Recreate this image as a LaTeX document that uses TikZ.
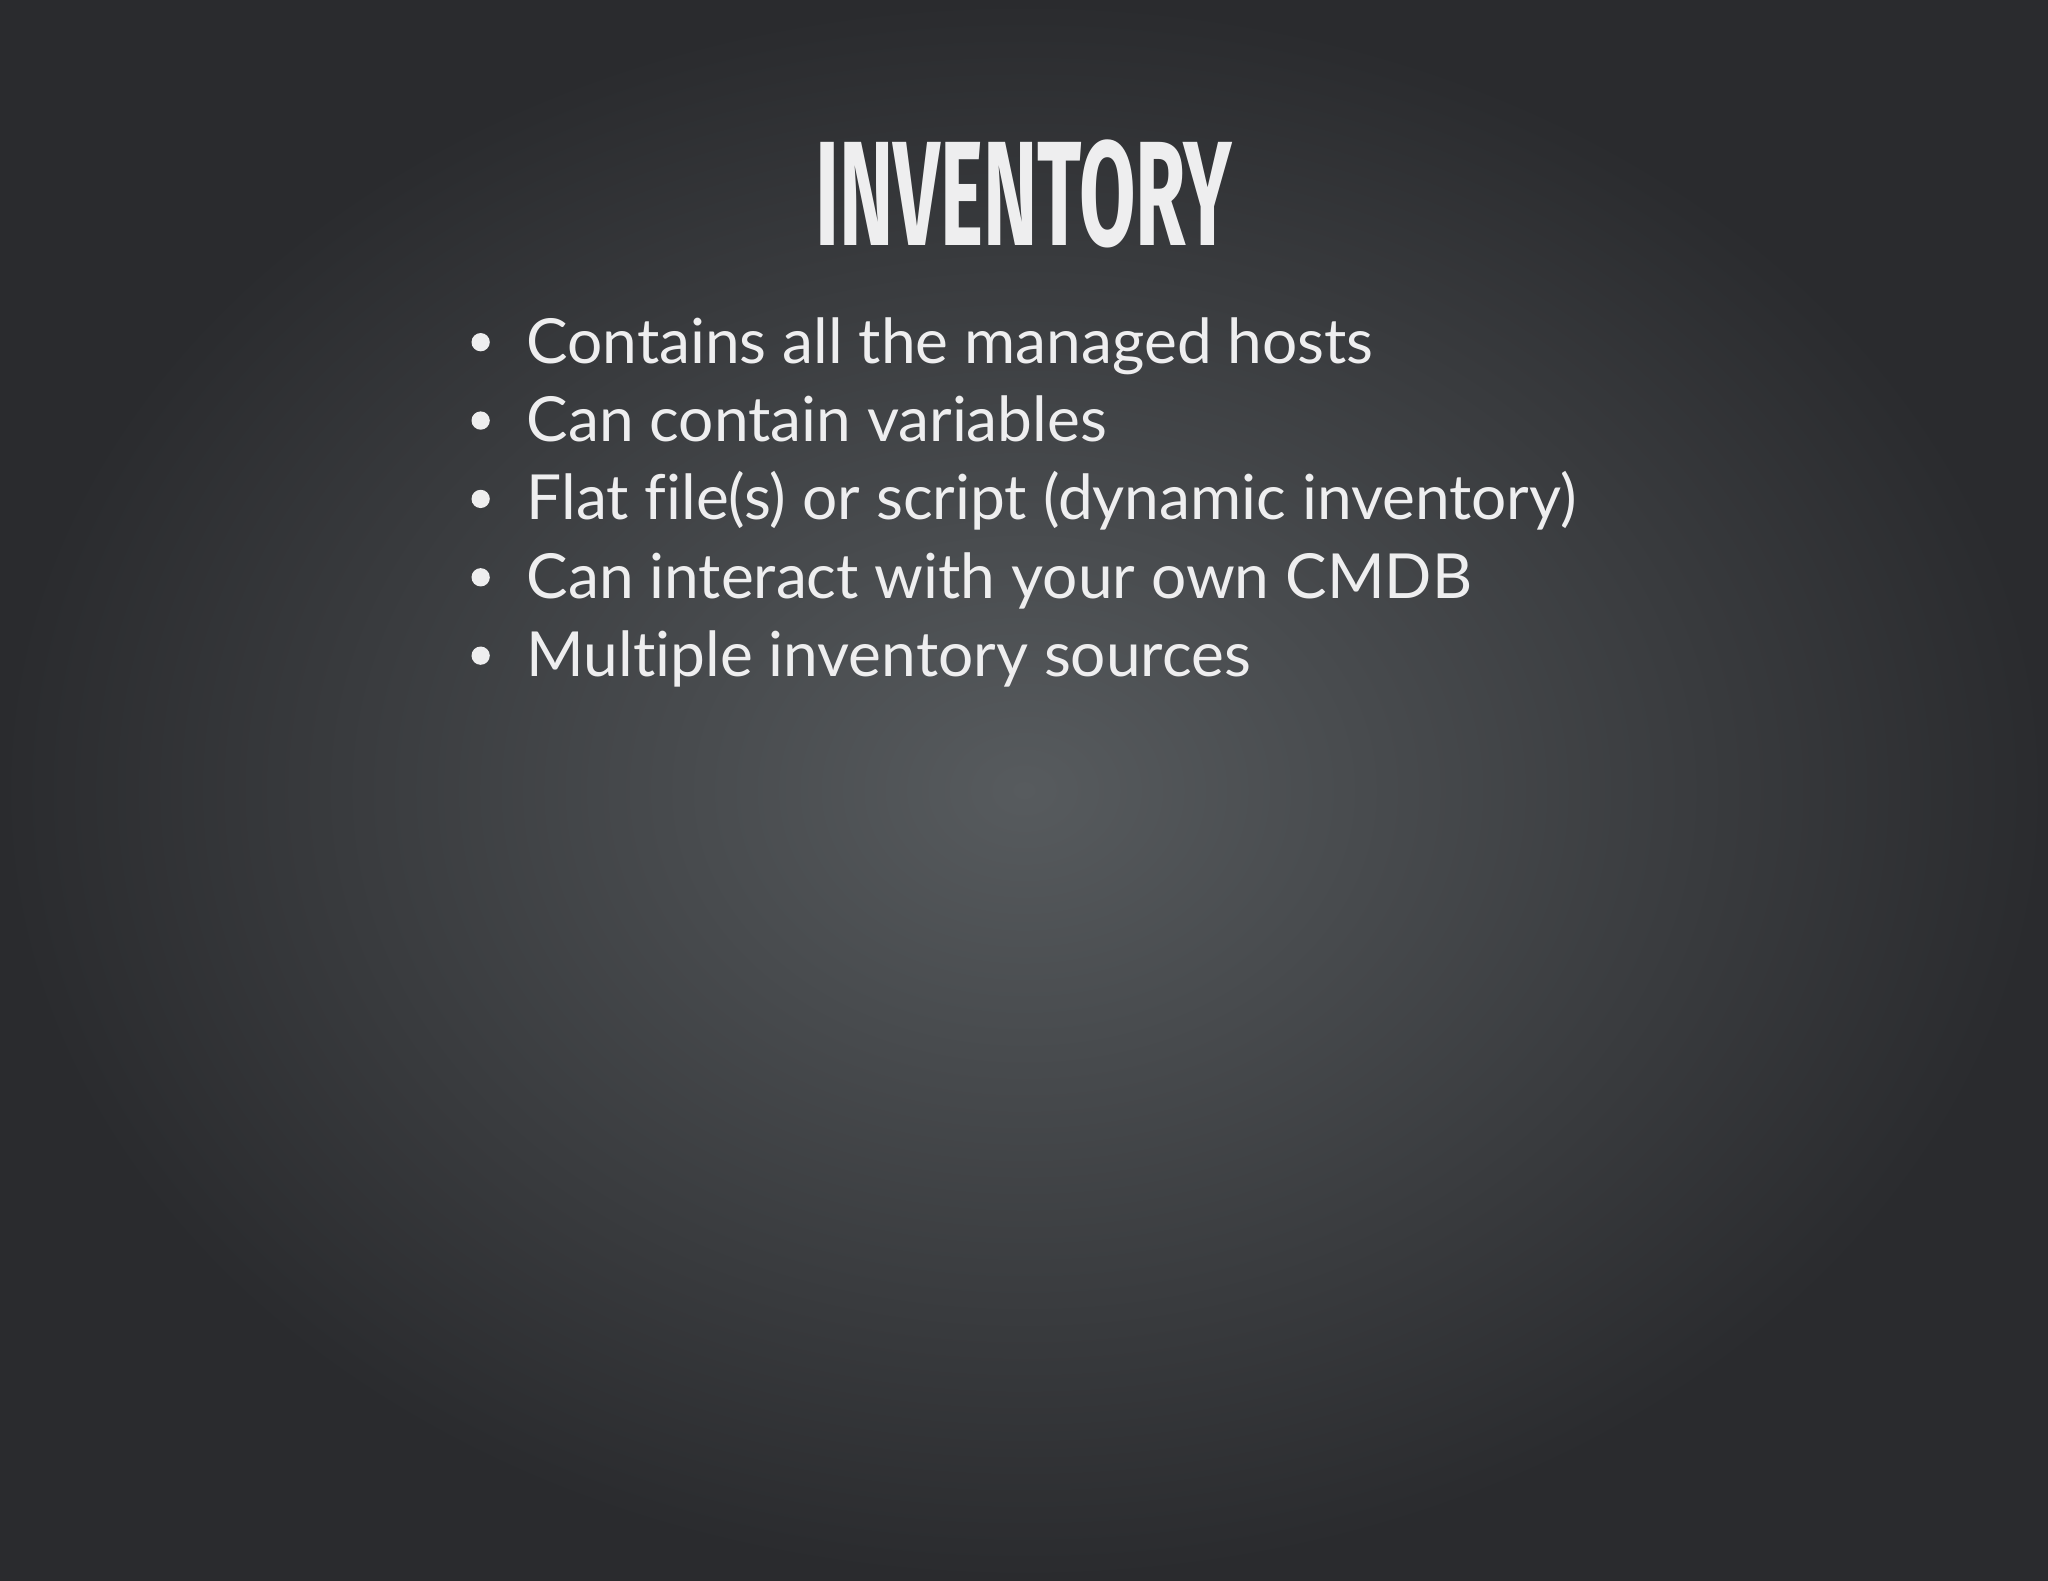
\documentclass[tikz,border=0pt]{standalone}
\usepackage{fontspec}
\setmainfont[Ligatures=NoCommon]{Lato}
\newfontfamily\titlefont{Fira Sans}
\definecolor{txt}{HTML}{EEEEEF}
\definecolor{bgin}{HTML}{575B5E}
\definecolor{bgout}{HTML}{2A2B2E}
\begin{document}
\begin{tikzpicture}[x=1pt,y=1pt,
  bullet/.style={anchor=base west,text=txt,font=\fontsize{47.6}{48}\selectfont,inner sep=0pt},
  dot/.style={circle,fill=txt,inner sep=0pt,minimum size=14pt}]
\useasboundingbox (0,0) rectangle (1568,1210);
\shade[inner color=bgin,outer color=bgout] (0,0) rectangle (1568,1210);
\node[text=txt,inner sep=0pt,anchor=base] (title) at (784,1210-188)
  {\scalebox{0.55}[1]{\titlefont\bfseries\fontsize{114}{114}\selectfont INVENTORY}};
\foreach \t [count=\i] in {Contains all the managed hosts,Can contain variables,Flat file(s) or script (dynamic inventory),Can interact with your own CMDB,Multiple inventory sources}{
  \node[bullet] (b\i) at (403,1210-218-60*\i) {\t};
  \node[dot] (d\i) at (368,1210-218-60*\i+16) {};
}
\end{tikzpicture}
\end{document}
